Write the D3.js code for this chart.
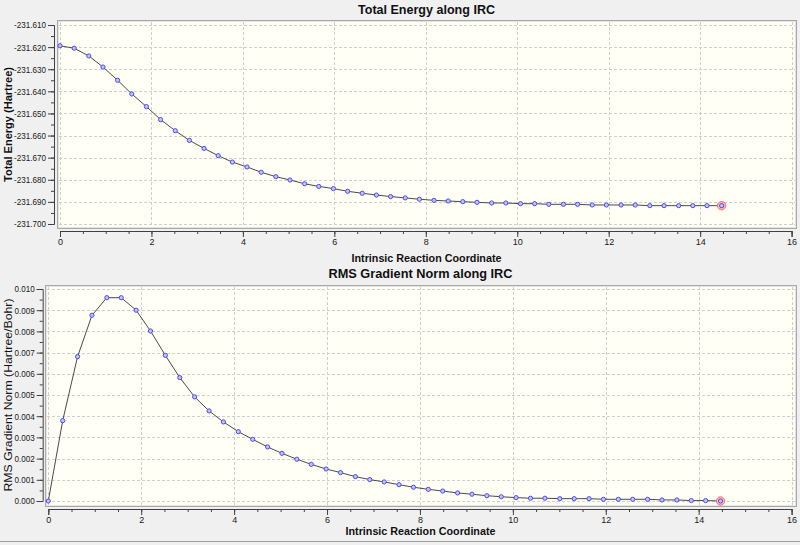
<!DOCTYPE html>
<html>
<head>
<meta charset="utf-8">
<script src="https://cdn.jsdelivr.net/npm/d3@7"></script>
<style>
  html, body { margin: 0; padding: 0; background: #f0f0f0; }
  svg { display: block; font-family: "Liberation Sans", Arial, sans-serif; }
</style>
</head>
<body>
<svg id="chart" width="800" height="545"></svg>
<script>
// IRC path: reaction coordinate, total energy, RMS gradient
const ircCoord = [0, 0.31, 0.63, 0.94, 1.26, 1.57, 1.89, 2.20, 2.52, 2.83,
  3.15, 3.46, 3.77, 4.09, 4.40, 4.72, 5.03, 5.35, 5.66, 5.98,
  6.29, 6.61, 6.92, 7.23, 7.55, 7.86, 8.18, 8.49, 8.81, 9.12,
  9.44, 9.75, 10.07, 10.38, 10.69, 11.01, 11.32, 11.64, 11.95, 12.27,
  12.58, 12.90, 13.21, 13.53, 13.84, 14.15, 14.47];

const totalEnergy = [-231.6194, -231.6205, -231.6240, -231.6290, -231.6350, -231.6412, -231.6469, -231.6528, -231.6578, -231.6622,
  -231.6658, -231.6691, -231.6720, -231.6742, -231.6766, -231.6786, -231.6801, -231.6818, -231.6830, -231.6840,
  -231.6852, -231.6861, -231.6869, -231.6876, -231.6882, -231.6888, -231.6893, -231.6896, -231.6899, -231.6902,
  -231.6905, -231.6905, -231.6908, -231.6908, -231.6911, -231.6911, -231.6911, -231.6914, -231.6914, -231.6914,
  -231.6914, -231.6917, -231.6917, -231.6917, -231.6917, -231.6917, -231.6917];

const rmsGradient = [0.00000, 0.00379, 0.00681, 0.00876, 0.00959, 0.00959, 0.00900, 0.00802, 0.00687, 0.00582,
  0.00491, 0.00425, 0.00373, 0.00327, 0.00291, 0.00255, 0.00225, 0.00197, 0.00173, 0.00151,
  0.00134, 0.00115, 0.00101, 0.00090, 0.00077, 0.00065, 0.00055, 0.00047, 0.00038, 0.00032,
  0.00025, 0.00020, 0.00016, 0.00013, 0.00013, 0.00011, 0.00011, 0.00011, 0.00008, 0.00008,
  0.00008, 0.00008, 0.00005, 0.00005, 0.00002, 0.00002, 0.00000];

const xTicks = [0, 2, 4, 6, 8, 10, 12, 14, 16];
const energyTicks = [-231.700, -231.690, -231.680, -231.670, -231.660, -231.650, -231.640, -231.630, -231.620, -231.610];
const gradTicks = [0.000, 0.001, 0.002, 0.003, 0.004, 0.005, 0.006, 0.007, 0.008, 0.009, 0.010];

const xLabel = 'Intrinsic Reaction Coordinate';

// plain hyphen minus, like the original
const fmt3 = d => (d < 0 ? '-' : '') + Math.abs(d).toFixed(3);

const panels = [
  {
    title: 'Total Energy along IRC', yLabel: 'Total Energy (Hartree)', yBold: true,
    values: totalEnergy, yTicks: energyTicks, yDomain: [-231.700, -231.610], yMinorStep: 0.005,
    frame: {x0: 57, x1: 796, y0: 20, y1: 228},
    xRange: [60, 791.6], yRange: [224, 25],
    axisX: 54, axisY: 231,
    titleY: 14, titleW: 137, xLabelY: 262, yLabelX: 12, yLabelW: 115
  },
  {
    title: 'RMS Gradient Norm along IRC', yLabel: 'RMS Gradient Norm (Hartree/Bohr)', yBold: false,
    values: rmsGradient, yTicks: gradTicks, yDomain: [0, 0.010], yMinorStep: 0.0005,
    frame: {x0: 45, x1: 796, y0: 285, y1: 506},
    xRange: [48.3, 791.6], yRange: [501, 289],
    axisX: 42.7, axisY: 509,
    titleY: 278, titleW: 184, xLabelY: 535, yLabelX: 11.5, yLabelW: 193
  }
];

const svg = d3.select('#chart');

// window separator at the bottom
svg.append('line').attr('x1', 0).attr('x2', 800).attr('y1', 541.5).attr('y2', 541.5)
  .attr('stroke', '#a0a0a0');

function drawPanel(p){
  const g = svg.append('g');
  const f = p.frame;
  const x = d3.scaleLinear().domain([0, 16]).range(p.xRange);
  const y = d3.scaleLinear().domain(p.yDomain).range(p.yRange);

  // plot area
  g.append('rect').attr('x', f.x0 + 0.5).attr('y', f.y0 + 0.5)
    .attr('width', f.x1 - f.x0).attr('height', f.y1 - f.y0)
    .attr('fill', '#fffff5').attr('stroke', '#a8a8a8');
  g.append('rect').attr('x', f.x0 + 1.5).attr('y', f.y0 + 1.5)
    .attr('width', f.x1 - f.x0 - 2).attr('height', f.y1 - f.y0 - 2)
    .attr('fill', 'none').attr('stroke', '#e4e4e4');

  // grid
  const grid = g.append('g').attr('stroke', '#cfcfcf').attr('stroke-dasharray', '3,2').attr('shape-rendering', 'crispEdges');
  grid.selectAll('.gx').data(xTicks).join('line')
    .attr('x1', d => Math.round(x(d)) + 0.5).attr('x2', d => Math.round(x(d)) + 0.5)
    .attr('y1', f.y0 + 2).attr('y2', f.y1 - 1);
  grid.selectAll('.gy').data(p.yTicks).join('line')
    .attr('y1', d => Math.round(y(d)) + 0.5).attr('y2', d => Math.round(y(d)) + 0.5)
    .attr('x1', f.x0 + 2).attr('x2', f.x1 - 1);

  // x axis with minor ticks every 0.5
  const xAxis = d3.axisBottom(x).tickValues(xTicks).tickFormat(d3.format('d')).tickSize(6).tickPadding(2);
  const xMinor = d3.axisBottom(x).tickValues(d3.range(0, 16.01, 0.5)).tickFormat('').tickSize(3);
  const gxm = g.append('g').attr('transform', `translate(0,${p.axisY})`).call(xMinor);
  const gx = g.append('g').attr('transform', `translate(0,${p.axisY})`).call(xAxis);
  gxm.select('.domain').remove();

  // y axis with minor ticks
  const yAxis = d3.axisLeft(y).tickValues(p.yTicks).tickFormat(fmt3).tickSize(6).tickPadding(2);
  const nMinor = Math.round((p.yDomain[1] - p.yDomain[0]) / p.yMinorStep);
  const yMinor = d3.axisLeft(y).tickValues(d3.range(nMinor + 1).map(i => p.yDomain[0] + i * p.yMinorStep)).tickFormat('').tickSize(3);
  const gym = g.append('g').attr('transform', `translate(${p.axisX},0)`).call(yMinor);
  const gy = g.append('g').attr('transform', `translate(${p.axisX},0)`).call(yAxis);
  gym.select('.domain').remove();

  [gx, gy, gxm, gym].forEach(a => {
    a.selectAll('line').attr('stroke', '#404040');
    a.select('.domain').attr('stroke', '#404040');
    a.selectAll('text').attr('font-size', 9).attr('fill', '#202020')
      .attr('font-family', '"Liberation Sans", Arial, sans-serif');
  });
  // the original tick font is a little narrower
  gy.selectAll('text').each(function(){
    const w = this.getComputedTextLength();
    d3.select(this).attr('textLength', w * 0.9).attr('lengthAdjust', 'spacingAndGlyphs');
  });

  // series line + markers
  const pts = ircCoord.map((c, i) => ({c, v: p.values[i]}));
  const line = d3.line().x(d => x(d.c)).y(d => y(d.v));
  g.append('path').datum(pts).attr('d', line)
    .attr('fill', 'none').attr('stroke', '#4a4a4a').attr('stroke-width', 1);

  const last = pts[pts.length - 1];
  g.append('circle').attr('cx', x(last.c)).attr('cy', y(last.v)).attr('r', 4.2)
    .attr('fill', '#ffb8b8').attr('stroke', '#ff6f6f').attr('stroke-width', 1);

  g.selectAll('.pt').data(pts).join('circle')
    .attr('cx', d => x(d.c)).attr('cy', d => y(d.v)).attr('r', 2.1)
    .attr('fill', '#c4c4ff').attr('stroke', '#4b4bf0').attr('stroke-width', 1);

  // texts
  const cx = (f.x0 + f.x1) / 2;
  g.append('text').attr('x', cx).attr('y', p.titleY).attr('text-anchor', 'middle')
    .attr('font-size', 12).attr('font-weight', 'bold').attr('fill', '#101010')
    .attr('textLength', p.titleW).attr('lengthAdjust', 'spacingAndGlyphs')
    .text(p.title);
  g.append('text').attr('x', cx).attr('y', p.xLabelY).attr('text-anchor', 'middle')
    .attr('font-size', 11).attr('font-weight', 'bold').attr('fill', '#101010')
    .attr('textLength', 150).attr('lengthAdjust', 'spacingAndGlyphs')
    .text(xLabel);
  const ym = (p.yRange[0] + p.yRange[1]) / 2;
  g.append('text').attr('transform', `translate(${p.yLabelX},${ym}) rotate(-90)`)
    .attr('text-anchor', 'middle')
    .attr('font-size', 11).attr('font-weight', p.yBold ? 'bold' : 'normal').attr('fill', '#101010')
    .attr('textLength', p.yLabelW).attr('lengthAdjust', 'spacingAndGlyphs')
    .text(p.yLabel);
}

panels.forEach(drawPanel);
</script>
</body>
</html>
